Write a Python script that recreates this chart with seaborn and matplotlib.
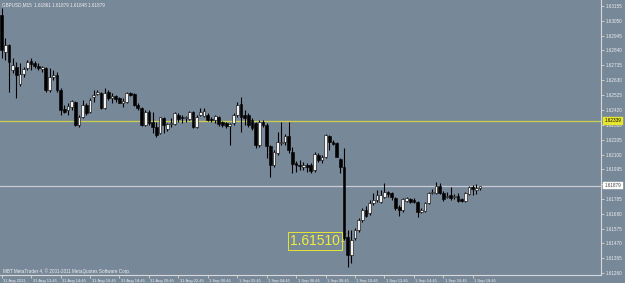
import numpy as np
import pandas as pd
import matplotlib
matplotlib.use("Agg")
import matplotlib.pyplot as plt
import matplotlib.transforms as mtransforms
import seaborn as sns

# ---------------- data (GBPUSD, M15) ----------------
open_ = [1.63091, 1.62829, 1.62878, 1.62701, 1.62722, 1.62602, 1.62673, 1.62715, 1.62765, 1.62751,
         1.62729, 1.62708, 1.62715, 1.62559, 1.62651, 1.62665, 1.62559, 1.62424, 1.62417, 1.62438,
         1.62474, 1.62310, 1.62367, 1.62452, 1.62403, 1.62509, 1.62531, 1.62538, 1.62431, 1.62545,
         1.62502, 1.62516, 1.62502, 1.62467, 1.62474, 1.62538, 1.62531, 1.62452, 1.62431, 1.62310,
         1.62403, 1.62332, 1.62296, 1.62254, 1.62360, 1.62282, 1.62318, 1.62318, 1.62381, 1.62367,
         1.62360, 1.62353, 1.62403, 1.62296, 1.62381, 1.62374, 1.62381, 1.62353, 1.62346, 1.62367,
         1.62332, 1.62325, 1.62303, 1.62325, 1.62381, 1.62460, 1.62381, 1.62381, 1.62346, 1.62325,
         1.62168, 1.62332, 1.62310, 1.62161, 1.62026, 1.62112, 1.62183, 1.62190, 1.62232, 1.62119,
         1.62041, 1.62026, 1.62012, 1.62026, 1.62026, 1.61991, 1.62097, 1.62062, 1.62083, 1.62232,
         1.62190, 1.62183, 1.62069, 1.62012, 1.61515, 1.61387, 1.61508, 1.61565, 1.61636, 1.61707,
         1.61686, 1.61757, 1.61778, 1.61764, 1.61799, 1.61835, 1.61828, 1.61792, 1.61728, 1.61707,
         1.61771, 1.61785, 1.61778, 1.61764, 1.61693, 1.61700, 1.61757, 1.61828, 1.61828, 1.61877,
         1.61828, 1.61799, 1.61813, 1.61799, 1.61806, 1.61785, 1.61771, 1.61821, 1.61870, 1.61849,
         1.61861]
high = [1.63141, 1.62928, 1.62886, 1.62786, 1.62758, 1.62751, 1.62722, 1.62772, 1.62786, 1.62765,
        1.62751, 1.62729, 1.62722, 1.62715, 1.62701, 1.62687, 1.62573, 1.62452, 1.62467, 1.62488,
        1.62481, 1.62381, 1.62488, 1.62467, 1.62502, 1.62559, 1.62559, 1.62545, 1.62573, 1.62559,
        1.62538, 1.62523, 1.62509, 1.62502, 1.62545, 1.62545, 1.62538, 1.62467, 1.62438, 1.62417,
        1.62417, 1.62403, 1.62332, 1.62367, 1.62367, 1.62325, 1.62360, 1.62403, 1.62396, 1.62381,
        1.62374, 1.62410, 1.62410, 1.62381, 1.62431, 1.62431, 1.62396, 1.62367, 1.62381, 1.62374,
        1.62339, 1.62332, 1.62325, 1.62396, 1.62474, 1.62509, 1.62417, 1.62396, 1.62360, 1.62332,
        1.62346, 1.62346, 1.62325, 1.62168, 1.62133, 1.62261, 1.62332, 1.62247, 1.62332, 1.62154,
        1.62055, 1.62062, 1.62048, 1.62041, 1.62041, 1.62119, 1.62112, 1.62097, 1.62247, 1.62239,
        1.62204, 1.62190, 1.62076, 1.62147, 1.61565, 1.61565, 1.61579, 1.61650, 1.61721, 1.61735,
        1.61778, 1.61828, 1.61849, 1.61849, 1.61899, 1.61842, 1.61835, 1.61799, 1.61742, 1.61792,
        1.61799, 1.61792, 1.61792, 1.61771, 1.61721, 1.61764, 1.61835, 1.61856, 1.61906, 1.61899,
        1.61842, 1.61835, 1.61870, 1.61821, 1.61828, 1.61792, 1.61835, 1.61877, 1.61884, 1.61892,
        1.61879]
low = [1.62786, 1.62772, 1.62545, 1.62680, 1.62502, 1.62587, 1.62651, 1.62701, 1.62701, 1.62715,
       1.62701, 1.62687, 1.62545, 1.62545, 1.62630, 1.62545, 1.62381, 1.62396, 1.62381, 1.62417,
       1.62303, 1.62296, 1.62360, 1.62381, 1.62396, 1.62474, 1.62523, 1.62424, 1.62424, 1.62488,
       1.62467, 1.62474, 1.62467, 1.62438, 1.62467, 1.62516, 1.62445, 1.62417, 1.62303, 1.62303,
       1.62310, 1.62254, 1.62225, 1.62247, 1.62254, 1.62268, 1.62296, 1.62310, 1.62332, 1.62325,
       1.62332, 1.62346, 1.62289, 1.62289, 1.62374, 1.62367, 1.62339, 1.62332, 1.62325, 1.62303,
       1.62296, 1.62289, 1.62168, 1.62310, 1.62367, 1.62261, 1.62310, 1.62296, 1.62275, 1.62147,
       1.62154, 1.62296, 1.62076, 1.61941, 1.62012, 1.62097, 1.62168, 1.62168, 1.62112, 1.61970,
       1.61977, 1.61991, 1.61991, 1.61977, 1.61970, 1.61977, 1.62048, 1.62041, 1.62076, 1.62133,
       1.62168, 1.62083, 1.61970, 1.61494, 1.61302, 1.61331, 1.61494, 1.61551, 1.61622, 1.61657,
       1.61671, 1.61742, 1.61764, 1.61757, 1.61792, 1.61799, 1.61778, 1.61707, 1.61664, 1.61693,
       1.61764, 1.61757, 1.61757, 1.61657, 1.61686, 1.61693, 1.61750, 1.61821, 1.61821, 1.61821,
       1.61771, 1.61792, 1.61778, 1.61785, 1.61764, 1.61764, 1.61764, 1.61813, 1.61813, 1.61821,
       1.61848]
close = [1.62843, 1.62878, 1.62758, 1.62736, 1.62665, 1.62673, 1.62708, 1.62758, 1.62744, 1.62729,
         1.62715, 1.62722, 1.62559, 1.62651, 1.62665, 1.62559, 1.62417, 1.62403, 1.62445, 1.62481,
         1.62310, 1.62367, 1.62452, 1.62396, 1.62488, 1.62523, 1.62545, 1.62431, 1.62538, 1.62502,
         1.62516, 1.62495, 1.62467, 1.62481, 1.62538, 1.62523, 1.62452, 1.62431, 1.62310, 1.62403,
         1.62325, 1.62296, 1.62239, 1.62367, 1.62310, 1.62318, 1.62325, 1.62396, 1.62353, 1.62360,
         1.62367, 1.62403, 1.62296, 1.62367, 1.62403, 1.62410, 1.62346, 1.62346, 1.62374, 1.62318,
         1.62310, 1.62303, 1.62318, 1.62381, 1.62452, 1.62367, 1.62360, 1.62310, 1.62289, 1.62168,
         1.62332, 1.62310, 1.62161, 1.62026, 1.62119, 1.62190, 1.62190, 1.62232, 1.62133, 1.62034,
         1.62026, 1.62019, 1.62026, 1.62012, 1.61984, 1.62105, 1.62062, 1.62083, 1.62239, 1.62190,
         1.62176, 1.62083, 1.62012, 1.61510, 1.61387, 1.61494, 1.61565, 1.61636, 1.61707, 1.61664,
         1.61757, 1.61778, 1.61813, 1.61813, 1.61835, 1.61821, 1.61799, 1.61721, 1.61707, 1.61785,
         1.61792, 1.61764, 1.61764, 1.61693, 1.61707, 1.61757, 1.61828, 1.61835, 1.61877, 1.61828,
         1.61785, 1.61806, 1.61792, 1.61806, 1.61771, 1.61771, 1.61828, 1.61870, 1.61856, 1.61863,
         1.61879]

time_labels = ["31 Aug 2011", "31 Aug 12:45", "31 Aug 14:45", "31 Aug 16:45", "31 Aug 18:45",
               "31 Aug 20:45", "31 Aug 22:45", "1 Sep 00:45", "1 Sep 02:45", "1 Sep 04:45",
               "1 Sep 06:45", "1 Sep 08:45", "1 Sep 10:45", "1 Sep 12:45", "1 Sep 14:45",
               "1 Sep 16:45", "1 Sep 18:45"]
time_label_bars = [0, 8, 16, 24, 32, 40, 48, 56, 64, 72, 80, 88, 96, 104, 112, 120, 128]

price_ticks = [1.63155, 1.63050, 1.62945, 1.62840, 1.62735, 1.62630, 1.62525, 1.62420, 1.62310,
               1.62205, 1.62100, 1.61995, 1.61890, 1.61785, 1.61680, 1.61575, 1.61470, 1.61365,
               1.61260]

yellow_level = 1.62339
bid_level = 1.61879
marked_price = 1.61510
marked_bar = 93
title_text = "GBPUSD,M15  1.61861 1.61879 1.61848 1.61879"
copyright_text = "MBT MetaTrader 4, \u00a9 2001-2011 MetaQuotes Software Corp."

# ---------------- style ----------------
BG = "#778899"
sns.set_theme(style="dark", rc={"axes.facecolor": BG, "figure.facecolor": BG,
                                "axes.edgecolor": "#d8d8d8", "axes.grid": False})
plt.rcParams["font.family"] = ["Liberation Sans", "DejaVu Sans"]

W, H = 625, 283
fig = plt.figure(figsize=(W / 100, H / 100), dpi=100)
ax = fig.add_axes([0, 8 / H, 601 / W, 275 / H])

df = pd.DataFrame({"o": open_, "h": high, "l": low, "c": close})
df["i"] = np.arange(len(df))
df["bottom"] = df[["o", "c"]].min(axis=1)
df["height"] = (df["c"] - df["o"]).abs().clip(lower=0.000012)
up = df["c"] > df["o"]

# wicks
ax.vlines(df["i"], df["l"], df["h"], color="black", lw=0.8, zorder=2)
# bodies
ax.bar(df["i"][up], df["height"][up], bottom=df["bottom"][up], width=0.74,
       color="#f2f2f2", edgecolor="black", linewidth=0.4, zorder=3)
ax.bar(df["i"][~up], df["height"][~up], bottom=df["bottom"][~up], width=0.74,
       color="black", edgecolor="black", linewidth=0.4, zorder=3)

# horizontal levels
ax.axhline(yellow_level, color="#d0d048", lw=0.9, zorder=1)
ax.axhline(bid_level, color="#c8ccd2", lw=0.9, zorder=1)

ax.set_xlim(-0.46, 162.85)
ax.set_ylim(1.61245, 1.63198)

# spines
for s in ["left", "top"]:
    ax.spines[s].set_visible(False)
for s in ["right", "bottom"]:
    ax.spines[s].set_visible(True)
    ax.spines[s].set_color("#d8d8d8")
    ax.spines[s].set_linewidth(0.8)

# right price axis
ax.yaxis.tick_right()
ax.set_yticks(price_ticks)
ax.set_yticklabels([f"{v:.5f}" for v in price_ticks])
ax.tick_params(axis="y", which="both", right=True, left=False, length=2.5, width=0.6,
               color="#d8d8d8", labelsize=3.3, labelcolor="#eeeeee", pad=1.0)

# bottom time axis
ax.set_xticks(time_label_bars)
ax.set_xticklabels(time_labels)
ax.tick_params(axis="x", which="both", bottom=True, length=2.5, width=0.6,
               color="#d8d8d8", labelsize=3.0, labelcolor="#eeeeee", pad=0.2)
offset = mtransforms.ScaledTranslation(1.5 / 100, 0, fig.dpi_scale_trans)
for lab in ax.get_xticklabels():
    lab.set_horizontalalignment("left")
    lab.set_transform(lab.get_transform() + offset)

# price boxes on the right axis
trans = mtransforms.blended_transform_factory(ax.transAxes, ax.transData)
ax.text(1.006, yellow_level, f"{yellow_level:.5f}", transform=trans, fontsize=3.3,
        color="black", va="center", ha="left", clip_on=False,
        bbox=dict(boxstyle="square,pad=0.25", fc="#e6e62e", ec="#e6e62e", lw=0.3))
ax.text(1.006, bid_level, f"{bid_level:.5f}", transform=trans, fontsize=3.3,
        color="#404040", va="center", ha="left", clip_on=False,
        bbox=dict(boxstyle="square,pad=0.25", fc="white", ec="white", lw=0.3))

# marked price label
ax.plot([marked_bar - 0.9, marked_bar - 0.2], [marked_price - 0.00022] * 2,
        color="#e6e62e", lw=0.7, zorder=4)
ax.text(marked_bar - 1.0, marked_price - 0.00022, f"{marked_price:.5f}", fontsize=10,
        color="#f0f03a", va="center", ha="right", zorder=5,
        bbox=dict(boxstyle="square,pad=0.15", fc="none", ec="#e6e62e", lw=0.7))

# title & copyright
fig.text(2 / W, 1 - 5 / H, title_text, fontsize=3.3, color="#f0f0f0", va="center", ha="left")
fig.text(3 / W, 1 - 271 / H, copyright_text, fontsize=3.3, color="#f0f0f0", va="center",
         ha="left")

fig.savefig("out.png", dpi=100, facecolor=BG)
